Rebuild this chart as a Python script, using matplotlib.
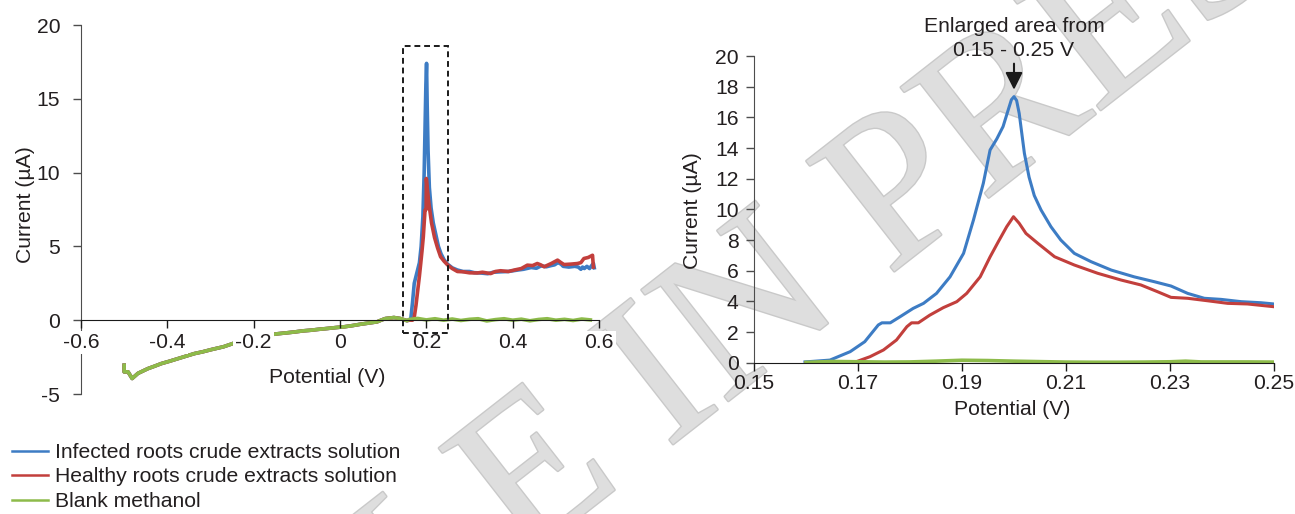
import matplotlib
matplotlib.use('Agg')
import matplotlib.pyplot as plt
import matplotlib.patheffects as pe
from matplotlib.lines import Line2D
from matplotlib.patches import Rectangle

plt.rcParams['font.family'] = ['Liberation Sans', 'DejaVu Sans']
plt.rcParams['axes.unicode_minus'] = False

TXT = '#231f20'
BLUE = '#3d7cc4'
RED = '#c23f3c'
GREEN = '#8dbb4a'
SPINE = '#4d4d4d'
FS = 15.2

labels = ['Infected roots crude extracts solution',
          'Healthy roots crude extracts solution',
          'Blank methanol']

# full scan: part shared by all three solutions (-0.5 V .. 0.155 V)
scan_v = [-0.5, -0.5, -0.491, -0.4815, -0.468, -0.445, -0.43, -0.414, -0.395, -0.375,
          -0.355, -0.337, -0.318, -0.298, -0.27, -0.245, -0.21, -0.18, -0.16, -0.145,
          -0.125, -0.106, -0.085, -0.068, -0.05, -0.029, -0.01, 0.009, 0.03, 0.048,
          0.065, 0.086, 0.095, 0.105, 0.125, 0.14, 0.155]
scan_i = [-3.05, -3.5, -3.5, -3.95, -3.6, -3.28, -3.12, -2.94, -2.78, -2.6,
          -2.42, -2.26, -2.14, -1.99, -1.8, -1.55, -1.3, -1.08, -0.98, -0.92,
          -0.86, -0.8, -0.72, -0.68, -0.62, -0.56, -0.5, -0.45, -0.36, -0.27,
          -0.2, -0.11, 0.0, 0.11, 0.18, 0.11, -0.03]

# full scan after 0.155 V
blue_v = [0.16, 0.164, 0.168, 0.172, 0.178, 0.184, 0.188, 0.192, 0.195, 0.197,
          0.199, 0.2005, 0.202, 0.204, 0.207, 0.211, 0.216, 0.222, 0.228, 0.234,
          0.241, 0.249, 0.26, 0.272, 0.285, 0.3, 0.311, 0.325, 0.342, 0.355,
          0.373, 0.39, 0.412, 0.425, 0.443, 0.455, 0.466, 0.478, 0.489, 0.497,
          0.505, 0.512, 0.517, 0.53, 0.544, 0.552, 0.558, 0.562, 0.566, 0.572,
          0.578, 0.583, 0.587, 0.589]
blue_i = [0.0, 0.1, 1.2, 2.5, 3.2, 3.9, 5.0, 7.0, 10.0, 13.0,
          16.0, 17.4, 14.5, 11.5, 9.0, 7.6, 6.6, 5.8, 5.0, 4.5,
          4.1, 3.8, 3.55, 3.4, 3.3, 3.3, 3.22, 3.2, 3.15, 3.25,
          3.28, 3.3, 3.4, 3.45, 3.57, 3.52, 3.68, 3.62, 3.7, 3.75,
          3.9, 3.8, 3.65, 3.6, 3.65, 3.6, 3.45, 3.6, 3.5, 3.65,
          3.5, 3.7, 3.85, 3.55]

red_v = [0.16, 0.168, 0.172, 0.176, 0.18, 0.184, 0.187, 0.19, 0.193, 0.1955,
         0.197, 0.1985, 0.1995, 0.2, 0.202, 0.206, 0.212, 0.219, 0.226, 0.233,
         0.241, 0.249, 0.26, 0.272, 0.285, 0.3, 0.318, 0.33, 0.349, 0.36,
         0.372, 0.39, 0.404, 0.42, 0.434, 0.446, 0.457, 0.465, 0.473, 0.49,
         0.504, 0.512, 0.519, 0.535, 0.55, 0.558, 0.565, 0.575, 0.585, 0.587]
red_i = [0.0, 0.0, 0.2, 1.0, 2.0, 3.0, 3.84, 4.7, 5.65, 6.8,
         7.46, 7.5, 7.5, 9.6, 9.0, 7.9, 6.6, 5.6, 4.9, 4.3,
         4.0, 3.75, 3.5, 3.3, 3.28, 3.21, 3.2, 3.25, 3.16, 3.3,
         3.35, 3.3, 3.4, 3.5, 3.73, 3.7, 3.84, 3.75, 3.62, 3.85,
         4.07, 3.9, 3.77, 3.8, 3.84, 3.9, 4.18, 4.25, 4.4, 3.6]

green_v = [0.16, 0.18, 0.2, 0.22, 0.24, 0.26, 0.28, 0.3, 0.32, 0.34, 0.36,
           0.38, 0.4, 0.42, 0.44, 0.46, 0.48, 0.5, 0.52, 0.54, 0.56, 0.58]
green_i = [0.05, 0.12, 0.02, 0.1, 0.0, 0.08, -0.02, 0.06, 0.1, -0.05, 0.04,
           0.1, 0.0, 0.07, -0.04, 0.05, 0.1, 0.0, 0.06, -0.02, 0.08, 0.02]

# enlarged area 0.15 - 0.25 V
zoom_blue_v = [0.1598, 0.1646, 0.1685, 0.1713, 0.1739, 0.1746, 0.1762, 0.1781, 0.1806, 0.1826,
               0.1851, 0.1877, 0.1903, 0.1922, 0.1941, 0.1954, 0.1967, 0.1979, 0.1989, 0.1995,
               0.2, 0.2005, 0.201, 0.202, 0.2029, 0.2039, 0.2052, 0.2071, 0.209, 0.2116,
               0.2148, 0.2187, 0.2231, 0.227, 0.2302, 0.2334, 0.2366, 0.2398, 0.2437, 0.2475, 0.25]
zoom_blue_i = [0.05, 0.17, 0.72, 1.37, 2.46, 2.6, 2.6, 3.0, 3.54, 3.87,
               4.52, 5.6, 7.13, 9.3, 11.7, 13.87, 14.6, 15.4, 16.5, 17.15,
               17.35, 17.1, 16.26, 13.65, 12.1, 10.9, 9.96, 8.87, 8.0, 7.13,
               6.59, 6.04, 5.6, 5.28, 5.0, 4.52, 4.2, 4.13, 3.98, 3.91, 3.83]

zoom_red_v = [0.16, 0.1697, 0.1723, 0.1749, 0.1774, 0.1794, 0.1803, 0.1816, 0.1838, 0.1864,
              0.189, 0.1909, 0.1935, 0.1954, 0.197, 0.1986, 0.1999, 0.201, 0.2023, 0.2046,
              0.2078, 0.2116, 0.2161, 0.2206, 0.2244, 0.2276, 0.2302, 0.2334, 0.2372, 0.2411,
              0.2449, 0.25]
zoom_red_i = [0.0, 0.07, 0.39, 0.83, 1.48, 2.35, 2.6, 2.6, 3.1, 3.59,
              3.98, 4.52, 5.6, 6.9, 7.9, 8.87, 9.52, 9.09, 8.43, 7.78,
              6.91, 6.37, 5.83, 5.39, 5.07, 4.63, 4.26, 4.2, 4.04, 3.87,
              3.83, 3.65]

zoom_green_v = [0.16, 0.165, 0.17, 0.175, 0.18, 0.185, 0.19, 0.195, 0.2, 0.205,
                0.21, 0.215, 0.22, 0.225, 0.23, 0.233, 0.236, 0.24, 0.245, 0.25]
zoom_green_i = [0.02, 0.08, 0.06, 0.04, 0.05, 0.1, 0.16, 0.14, 0.1, 0.07,
                0.04, 0.03, 0.03, 0.04, 0.06, 0.1, 0.05, 0.05, 0.05, 0.04]

left_xticks = [-0.6, -0.4, -0.2, 0, 0.2, 0.4, 0.6]
left_xlabels = ['-0.6', '-0.4', '-0.2', '0', '0.2', '0.4', '0.6']
left_yticks = [-5, 0, 5, 10, 15, 20]
right_xticks = [0.15, 0.17, 0.19, 0.21, 0.23, 0.25]
right_xlabels = ['0.15', '0.17', '0.19', '0.21', '0.23', '0.25']
right_yticks = list(range(0, 21, 2))

fig = plt.figure(figsize=(12.95, 5.14), dpi=100)
fig.patch.set_facecolor('white')

# watermark behind everything
fig.text(622 / 1295, 1 - 419 / 514, 'ARTICLE IN PRESS', rotation=38, rotation_mode='anchor',
         fontsize=155, family='Liberation Serif', color='#dedede', ha='center', va='center',
         zorder=-5, path_effects=[pe.withStroke(linewidth=2, foreground='#c9c9c9')])

# ---- left: full scan ----
ax1 = fig.add_axes([81 / 1295, 1 - 394 / 514, 518 / 1295, 369 / 514])
ax1.set_facecolor('none')
ax1.plot(scan_v + blue_v, scan_i + blue_i, color=BLUE, lw=2.6, zorder=2)
ax1.plot(scan_v + red_v, scan_i + red_i, color=RED, lw=2.6, zorder=2.1)
ax1.plot(scan_v + green_v, scan_i + green_i, color=GREEN, lw=2.6, zorder=2.2)
ax1.add_patch(Rectangle((0.145, -0.9), 0.105, 19.5, fill=False, ec='#1a1a1a', lw=1.4,
                        ls=(0, (3, 2)), zorder=6))
ax1.set_xlim(-0.6, 0.6)
ax1.set_ylim(-5, 20)
ax1.spines['top'].set_visible(False)
ax1.spines['right'].set_visible(False)
ax1.spines['bottom'].set_position(('data', 0))
ax1.spines['bottom'].set_color('#1a1a1a')
ax1.spines['left'].set_color(SPINE)
ax1.set_xticks(left_xticks)
ax1.set_xticklabels(left_xlabels)
ax1.set_yticks(left_yticks)
ax1.tick_params(axis='x', length=6, width=1, color='#1a1a1a', pad=3, labelsize=FS, labelcolor=TXT)
ax1.tick_params(axis='y', length=6, width=1, color=SPINE, pad=9, labelsize=FS, labelcolor=TXT)
ax1.xaxis.set_zorder(5)
for lbl in ax1.get_xticklabels():
    lbl.set_bbox(dict(boxstyle='square,pad=0.1', fc='white', ec='none'))
ax1.set_xlabel('Potential (V)', fontsize=FS, color=TXT, va='center')
ax1.xaxis.set_label_coords(0.475, 0.046)
ax1.set_ylabel('Current (\u00b5A)', fontsize=FS, color=TXT, va='center')
ax1.yaxis.set_label_coords(-0.108, 0.512)

# ---- right: enlarged area ----
ax2 = fig.add_axes([754 / 1295, 1 - 362.7 / 514, 520 / 1295, 306.7 / 514])
ax2.set_facecolor('none')
ax2.plot(zoom_blue_v, zoom_blue_i, color=BLUE, lw=2.2, zorder=2)
ax2.plot(zoom_red_v, zoom_red_i, color=RED, lw=2.2, zorder=2.1)
ax2.plot(zoom_green_v, zoom_green_i, color=GREEN, lw=2.6, zorder=2.2)
ax2.set_xlim(0.15, 0.25)
ax2.set_ylim(0, 20)
ax2.spines['top'].set_visible(False)
ax2.spines['right'].set_visible(False)
ax2.spines['bottom'].set_color('#1a1a1a')
ax2.spines['left'].set_color(SPINE)
ax2.set_xticks(right_xticks)
ax2.set_xticklabels(right_xlabels)
ax2.set_yticks(right_yticks)
ax2.tick_params(axis='x', length=6, width=1, color='#1a1a1a', pad=2, labelsize=FS, labelcolor=TXT)
ax2.tick_params(axis='y', length=6, width=1, color=SPINE, pad=5, labelsize=FS, labelcolor=TXT)
ax2.set_xlabel('Potential (V)', fontsize=FS, color=TXT, va='center')
ax2.xaxis.set_label_coords(0.496, -0.154)
ax2.set_ylabel('Current (\u00b5A)', fontsize=FS, color=TXT, va='center')
ax2.yaxis.set_label_coords(-0.119, 0.495)

ax2.annotate('Enlarged area from\n0.15 - 0.25 V', xy=(0.2, 21.15), ha='center', va='center',
             fontsize=FS, color=TXT, linespacing=1.35, annotation_clip=False)
ax2.annotate('', xy=(0.2, 17.8), xytext=(0.2, 19.5), annotation_clip=False,
             arrowprops=dict(arrowstyle='-|>', color='#1a1a1a', lw=1.5, mutation_scale=26,
                             shrinkA=0, shrinkB=0))

handles = [Line2D([], [], color=c, lw=1.8) for c in (BLUE, RED, GREEN)]
fig.legend(handles, labels, loc='upper left', bbox_to_anchor=(12 / 1295, 1 - 443 / 514),
           frameon=False, fontsize=FS, handlelength=1.7, handletextpad=0.35,
           labelspacing=0.26, borderpad=0, borderaxespad=0, labelcolor=TXT)

fig.savefig('out.png', dpi=100, facecolor='white')
